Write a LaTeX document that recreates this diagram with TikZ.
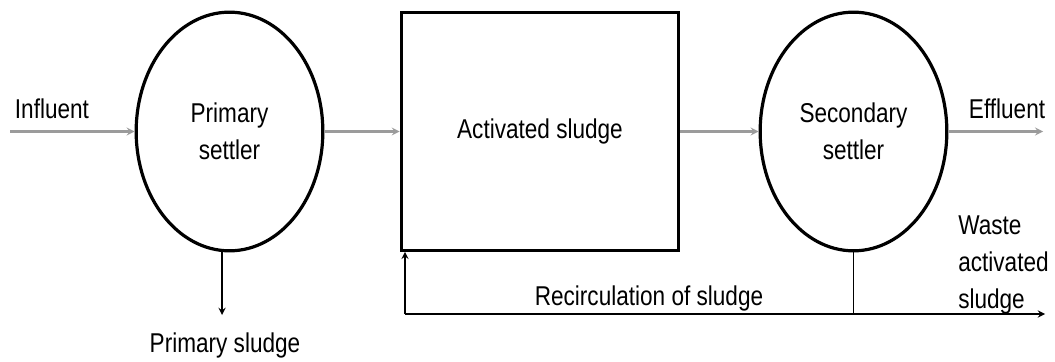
\documentclass[tikz,border=0pt]{standalone}
\usepackage{fontspec}
\setmainfont[FakeStretch=0.83]{Liberation Sans}
\usepackage{tikz}
\usetikzlibrary{shapes.geometric}
\definecolor{flowgray}{RGB}{155,155,155}
\tikzstyle{settler} = [ellipse, minimum width=140pt, minimum height=179pt, inner sep=0pt, line width=2.4pt, draw=black, align=center]
\tikzstyle{block} = [rectangle, minimum width=208pt, minimum height=178pt, line width=2.4pt, draw=black]
\tikzstyle{flow} = [line width=1.6pt, draw=flowgray, ->, >=stealth]
\tikzstyle{arrow} = [line width=1.4pt, ->, >=stealth]
\tikzstyle{label} = [inner sep=0pt, anchor=base]

\begin{document}
\begin{tikzpicture}[x=0.75pt, y=0.75pt, font=\fontsize{20.4}{27.75}\selectfont]
        \useasboundingbox (0,0) rectangle (1055,361);
        % treatment line
        \node (prim) [settler] at (229.5,229.5) {Primary\\settler};
        \node (tank) [block] at (540,229.5) {Activated sludge};
        \node (sec) [settler] at (853.5,229.5) {Secondary\\settler};
        \coordinate (inf) at (10,229.5);
        \coordinate (eff) at (1043,229.5);
        \draw [flow] (inf) -- (prim.west);
        \draw [flow] (prim.east) -- (tank.west);
        \draw [flow] (tank.east) -- (sec.west);
        \draw [flow] (sec.east) -- (eff);
        \node (inflabel) [label] at (52,243) {Influent};
        \node (efflabel) [label] at (1007,243) {Effluent};
        % sludge lines
        \coordinate (ps) at (222,46);
        \coordinate (rc) at (405,47);
        \coordinate (was) at (1045,47);
        \draw [arrow] (prim.south -| ps) -- (ps);
        \draw [line width=1.4pt] (sec.south) -- (sec.south |- rc);
        \draw [arrow] (rc) -- (was);
        \draw [arrow] (rc) -- (rc |- tank.south);
        \node (pslabel) [label] at (225,9) {Primary sludge};
        \node (reclabel) [label] at (649,56) {Recirculation of sludge};
        \node (waslabel) [inner sep=0pt, anchor=north west, align=left] at (958,145) {Waste\\activated\\sludge};
    \end{tikzpicture}
\end{document}
